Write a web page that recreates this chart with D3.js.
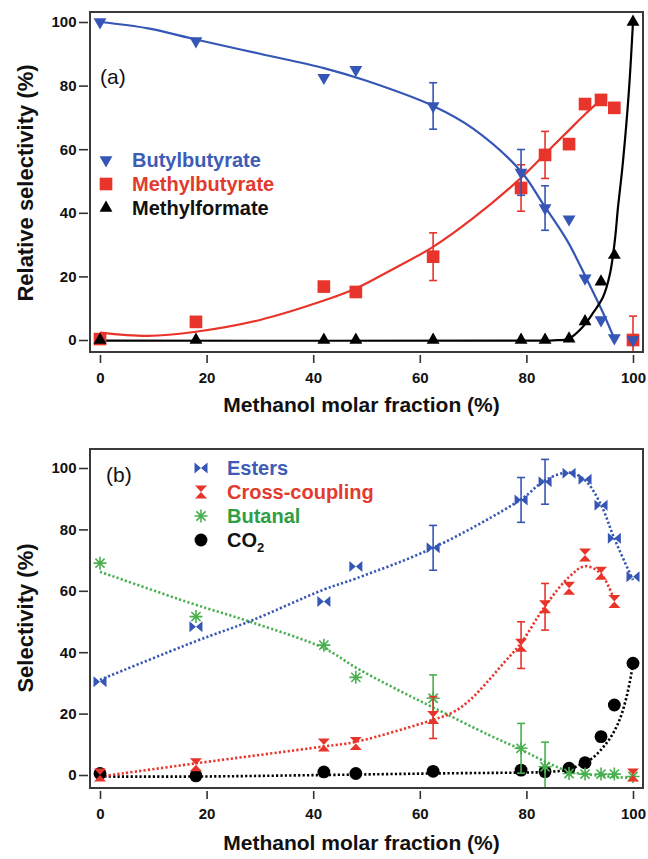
<!DOCTYPE html>
<html>
<head>
<meta charset="utf-8">
<script src="https://cdn.jsdelivr.net/npm/d3@7"></script>
<style>
  body { margin: 0; background: #fff; }
  text { font-family: "Liberation Sans", Arial, sans-serif; }
</style>
</head>
<body>
<div class="graph"></div>
<script>
const w = 648;
const h = 859;

// methanol molar fraction (%) of the measured points
const fraction = [0, 18, 42, 48, 62.5, 79, 83.5, 88, 91, 94, 96.5, 100];
const xTicks = [0, 20, 40, 60, 80, 100];
const yTicks = [0, 20, 40, 60, 80, 100];

// panel (a) - relative selectivity (%)
const butylbutyrate = [100, 94, 82.5, 85, 73.6, 52.7, 41.5, 38, 19.4, 6.3, 0.6, 0];
const butylbutyrateErr = [0, 0, 0, 0, 7.3, 7.2, 7, 0, 0, 0, 0, 0];
const methylbutyrate = [0.3, 5.7, 16.8, 15.1, 26.2, 47.8, 58.2, 61.6, 74.2, 75.5, 73, 0];
const methylbutyrateErr = [0, 0, 0, 0, 7.5, 7.3, 7.4, 0, 0, 0, 0, 7.5];
const methylformate = [0, 0, 0, 0, 0, 0, 0, 0.4, 5.8, 18.3, 26.7, 100];

// fitted curves of panel (a)
const butylFitX = [0, 9, 18, 30, 42, 50, 62.5, 70, 79, 83, 87.6, 91.4, 94.4, 96.6];
const butylFitY = [100, 98, 94.5, 90, 85.5, 81.5, 73.6, 66.5, 53, 43.1, 31.4, 18.9, 8.5, 0];
const methylbutFitX = [0, 9, 18, 30, 42, 48, 54.4, 62.5, 70, 79, 83.5, 88, 91, 94];
const methylbutFitY = [2.3, 1.3, 2.6, 6.3, 12.4, 16.2, 21.8, 29.3, 38.3, 51, 58.5, 66, 71, 75.5];
const formateFitX = [0, 80, 85, 88, 90.6, 92.5, 94.4, 95.7, 96.6, 97.2, 97.9, 98.5, 99.3, 100];
const formateFitY = [-0.2, -0.2, -0.1, 0.5, 4.2, 8.5, 13.6, 21, 31.4, 42, 52.5, 63, 80, 100];

// panel (b) - selectivity (%)
const esters = [30.4, 48.3, 56.5, 67.9, 74, 89.6, 95.5, 98.3, 96.3, 87.9, 77.1, 64.6];
const estersErr = [0, 0, 0, 0, 7.3, 7.3, 7.3, 0, 0, 0, 0, 0];
const crossCoupling = [0, 3.3, 9.8, 10.3, 18.7, 42.3, 54.8, 60.8, 71.7, 65.7, 56.5, 0];
const crossCouplingErr = [0, 0, 0, 0, 6.8, 7.6, 7.6, 0, 0, 0, 0, 0];
const butanal = [69, 51.6, 42.3, 31.8, 25, 8.7, 2.7, 0.5, 0.3, 0.3, 0.3, -0.5];
const butanalErr = [0, 0, 0, 0, 7.6, 8.1, 8, 0, 0, 0, 0, 0];
const co2 = [0.5, -0.3, 1, 0.5, 1.2, 1.6, 1.1, 2.2, 4, 12.5, 22.8, 36.4];

// dotted guide curves of panel (b)
const estersFitX = [0, 18, 28, 42, 48, 62.5, 79, 83.5, 88, 91, 94, 96.5, 100];
const estersFitY = [31, 43.6, 50, 60.4, 64, 74, 89.8, 96, 98.5, 96, 88, 77, 63.5];
const crossFitX = [0, 18, 42, 48, 62.5, 66.3, 69.4, 72.5, 75.7, 79, 83.5, 88, 91, 94, 96.5];
const crossFitY = [-0.5, 3.8, 9.3, 10.8, 18, 20.5, 24.4, 30, 36.4, 43, 55, 64.5, 68, 65.5, 57];
const butanalFitX = [0, 17, 28, 42, 48, 55, 62.5, 73, 79, 83.5, 88, 94, 100];
const butanalFitY = [66.2, 56, 50, 41.3, 35, 28.5, 22, 13, 8.3, 4.4, 1.2, -0.3, -1];
const co2FitX = [0, 18, 42, 62.5, 79, 84, 88, 90, 92, 95, 97.2, 98.8, 100];
const co2FitY = [-0.5, -0.5, 0, 0.5, 0.8, 1, 1.8, 3.3, 5, 10.3, 16.8, 25.5, 36];

const blue = "#3556b5", red = "#e8342a", green = "#49b04f", black = "#000";

// marker shapes
const sym = {
  triDown: d3.symbol(d3.symbolTriangle).size(72)(),
  triUp: d3.symbol(d3.symbolTriangle).size(72)(),
  square: d3.symbol(d3.symbolSquare).size(160)(),
  circle: d3.symbol(d3.symbolCircle).size(130)(),
  bowtie: "M-6.5,-5.5L0,0L-6.5,5.5ZM6.5,-5.5L0,0L6.5,5.5Z",
  hourglass: "M-6,-6.5H6L0,0L6,6.5H-6L0,0Z",
  asterisk: "M-6.5,0H6.5M0,-6.5V6.5M-4.6,-4.6L4.6,4.6M-4.6,4.6L4.6,-4.6"
};

const panels = [
  {
    label: "(a)", labelPos: [100, 84],
    frame: {x0: 90, x1: 643, y0: 12, y1: 352}, yRange: [340, 22],
    yTitle: "Relative selectivity (%)", yTitleY: 183, xTickY: 355, xTitleY: 412,
    dash: null,
    legend: {x: 106, y: 160, step: 24},
    // drawing order
    series: [
      {name: "Methylbutyrate", v: methylbutyrate, err: methylbutyrateErr, fx: methylbutFitX, fy: methylbutFitY, color: red, text: "#e33a2e", shape: "square", legendIdx: 1},
      {name: "Butylbutyrate", v: butylbutyrate, err: butylbutyrateErr, fx: butylFitX, fy: butylFitY, color: blue, text: "#3d5cb6", shape: "triDown", legendIdx: 0},
      {name: "Methylformate", v: methylformate, err: null, fx: formateFitX, fy: formateFitY, color: black, text: "#111", shape: "triUp", legendIdx: 2}
    ]
  },
  {
    label: "(b)", labelPos: [106, 482],
    frame: {x0: 90, x1: 643, y0: 449, y1: 788}, yRange: [775, 468],
    yTitle: "Selectivity (%)", yTitleY: 618, xTickY: 791, xTitleY: 850,
    dash: "2.2,2.2",
    legend: {x: 201, y: 468, step: 24},
    series: [
      {name: "CO2", v: co2, err: null, fx: co2FitX, fy: co2FitY, color: black, text: "#111", shape: "circle", legendIdx: 3},
      {name: "Butanal", v: butanal, err: butanalErr, fx: butanalFitX, fy: butanalFitY, color: green, text: "#2f9e44", shape: "asterisk", legendIdx: 2},
      {name: "Cross-coupling", v: crossCoupling, err: crossCouplingErr, fx: crossFitX, fy: crossFitY, color: red, text: "#e33a2e", shape: "hourglass", legendIdx: 1},
      {name: "Esters", v: esters, err: estersErr, fx: estersFitX, fy: estersFitY, color: blue, text: "#3d5cb6", shape: "bowtie", legendIdx: 0}
    ]
  }
];

const svg = d3.select(".graph").append("svg")
  .attr("width", w)
  .attr("height", h);

const x = d3.scaleLinear().domain([0, 100]).range([100, 633]);

function drawMarker(g, shape, color) {
  const p = g.append("path").attr("d", sym[shape]);
  if (shape === "asterisk") {
    p.attr("fill", "none").attr("stroke", color).attr("stroke-width", 1.6);
  } else {
    p.attr("fill", color);
  }
  if (shape === "triDown") p.attr("transform", "rotate(180)");
  return p;
}

panels.forEach((pn, pi) => {
  const y = d3.scaleLinear().domain([0, 100]).range(pn.yRange);
  const f = pn.frame;
  const g = svg.append("g");

  g.append("rect")
    .attr("x", f.x0).attr("y", f.y0)
    .attr("width", f.x1 - f.x0).attr("height", f.y1 - f.y0)
    .attr("fill", "#fff");

  const clipId = "clip" + pi;
  svg.append("clipPath").attr("id", clipId)
    .append("rect")
    .attr("x", f.x0).attr("y", f.y0)
    .attr("width", f.x1 - f.x0).attr("height", f.y1 - f.y0);

  const plot = g.append("g").attr("clip-path", `url(#${clipId})`);

  // fit curves
  const line = d3.line()
    .x(d => x(d[0]))
    .y(d => y(d[1]))
    .curve(d3.curveCatmullRom.alpha(0.5));

  pn.series.forEach(s => {
    plot.append("path")
      .datum(d3.zip(s.fx, s.fy))
      .attr("d", line)
      .attr("fill", "none")
      .attr("stroke", s.color)
      .attr("stroke-width", pn.dash ? 2.6 : 2.2)
      .attr("stroke-dasharray", pn.dash);
  });

  // error bars + markers
  pn.series.forEach(s => {
    const pts = fraction.map((fr, i) => ({fr, v: s.v[i], e: s.err ? s.err[i] : 0}));
    const eb = plot.append("g")
      .attr("stroke", s.color)
      .attr("stroke-width", 1.6)
      .selectAll("g")
      .data(pts.filter(d => d.e > 0))
      .enter().append("g");
    eb.append("line")
      .attr("x1", d => x(d.fr)).attr("x2", d => x(d.fr))
      .attr("y1", d => y(d.v - d.e)).attr("y2", d => y(d.v + d.e));
    [-1, 1].forEach(sg => {
      eb.append("line")
        .attr("x1", d => x(d.fr) - 4).attr("x2", d => x(d.fr) + 4)
        .attr("y1", d => y(d.v + sg * d.e)).attr("y2", d => y(d.v + sg * d.e));
    });

    pts.forEach(d => {
      const m = plot.append("g").attr("transform", `translate(${x(d.fr)},${y(d.v)})`);
      drawMarker(m, s.shape, s.color);
    });
  });

  g.append("rect")
    .attr("x", f.x0).attr("y", f.y0)
    .attr("width", f.x1 - f.x0).attr("height", f.y1 - f.y0)
    .attr("fill", "none")
    .attr("stroke", "#3a3a3a")
    .attr("stroke-width", 2);

  // axes
  const xAxis = d3.axisBottom(x).tickValues(xTicks).tickSize(8).tickPadding(9.5);
  const yAxis = d3.axisLeft(y).tickValues(yTicks).tickSize(9).tickPadding(2.5);

  const gx = g.append("g")
    .attr("transform", `translate(0,${pn.xTickY})`)
    .call(xAxis);
  const gy = g.append("g")
    .attr("transform", `translate(${f.x0 - 2},0)`)
    .call(yAxis);
  [gx, gy].forEach(a => {
    a.select(".domain").remove();
    a.selectAll("line").attr("stroke", "#333").attr("stroke-width", 1.6);
    a.selectAll("text")
      .attr("fill", "#111")
      .style("font-size", "15px")
      .style("font-weight", "bold")
      .style("font-family", "'Liberation Sans', Arial, sans-serif");
  });

  g.append("text")
    .attr("x", (f.x0 + f.x1) / 2 - 5)
    .attr("y", pn.xTitleY)
    .attr("text-anchor", "middle")
    .style("font-size", "21px")
    .style("font-weight", "bold")
    .attr("fill", "#111")
    .text("Methanol molar fraction (%)");

  g.append("text")
    .attr("transform", `translate(33,${pn.yTitleY}) rotate(-90)`)
    .attr("text-anchor", "middle")
    .style("font-size", "22px")
    .style("font-weight", "bold")
    .attr("fill", "#111")
    .text(pn.yTitle);

  g.append("text")
    .attr("x", pn.labelPos[0]).attr("y", pn.labelPos[1])
    .style("font-size", "21px")
    .attr("fill", "#111")
    .text(pn.label);

  // legend
  const lg = g.append("g");
  pn.series.forEach(s => {
    const ly = pn.legend.y + s.legendIdx * pn.legend.step;
    const m = lg.append("g").attr("transform", `translate(${pn.legend.x},${ly})`);
    drawMarker(m, s.shape, s.color);
    const t = lg.append("text")
      .attr("x", pn.legend.x + 26)
      .attr("y", ly + 7)
      .style("font-size", "20px")
      .style("font-weight", "bold")
      .attr("fill", s.text);
    if (s.name === "CO2") {
      t.append("tspan").text("CO");
      t.append("tspan").attr("dy", 5).style("font-size", "13px").text("2");
    } else {
      t.text(s.name);
    }
  });
});
</script>
</body>
</html>
